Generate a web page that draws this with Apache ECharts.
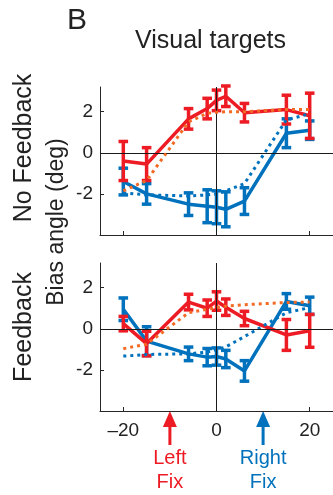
<!DOCTYPE html>
<html>
<head>
<meta charset="utf-8">
<script src="https://cdn.jsdelivr.net/npm/echarts@6/dist/echarts.min.js"></script>
<style>
html,body{margin:0;padding:0;background:#fff;}
#chart{width:333px;height:495px;}
</style>
</head>
<body>
<div id="chart"></div>
<script>
// ---- data ----
const targetX = [-20, -15, -6, -2, 0, 2, 6, 15, 20];
const xTicks = [-20, 0, 20];
const yTicks = [-2, 0, 2];
const fixX = { left: -10, right: 10 };

// No Feedback panel
const noFbLeftMean  = [-0.4, -0.55, 1.65, 2.15, 2.55, 2.75, 1.95, 2.1, 1.8];
const noFbLeftErr   = [0.95, 0.8, 0.5, 0.5, 0.5, 0.5, 0.45, 0.7, 1.1];
const noFbRightMean = [-1.4, -2.0, -2.5, -2.6, -2.65, -2.75, -2.35, 0.95, 1.1];
const noFbRightErr  = [0.65, 0.5, 0.55, 0.8, 0.8, 0.85, 0.65, 0.7, 0.45];
const noFbLeftFit   = [-1.85, -1.35, 1.5, 1.92, 1.97, 2.0, 2.0, 2.1, 2.1];
const noFbRightFit  = [-1.95, -2.05, -2.1, -2.05, -2.0, -1.85, -1.5, 1.6, 1.9];

// Feedback panel
const fbLeftMean  = [0.25, -0.72, 1.3, 1.0, 1.35, 1.05, 0.5, -0.3, -0.1];
const fbLeftErr   = [0.35, 0.6, 0.38, 0.4, 0.45, 0.4, 0.35, 0.75, 0.8];
const fbRightMean = [0.95, -0.6, -1.22, -1.38, -1.35, -1.47, -2.05, 1.33, 1.12];
const fbRightErr  = [0.55, 0.7, 0.33, 0.42, 0.42, 0.42, 0.5, 0.38, 0.42];
const fbLeftFit   = [-0.97, -0.75, 0.78, 0.95, 1.03, 1.1, 1.17, 1.28, 1.3];
const fbRightFit  = [-1.33, -1.25, -1.22, -1.13, -1.02, -0.88, -0.38, 0.78, 1.03];

// ---- styling ----
const RED = '#ED1C24', BLUE = '#0072BD', ORANGE = '#F26A24';
const FONT = '"Liberation Sans", Arial, Helvetica, sans-serif';
const TXT = '#222';

const pairs = (ys) => targetX.map((x, i) => [x, ys[i]]);
const errRows = (m, e) => targetX.map((x, i) => [x, m[i] - e[i], m[i] + e[i]]);

function errSeries(idx, m, e, color, z) {
  return {
    type: 'custom', xAxisIndex: idx, yAxisIndex: idx, z: z, silent: true,
    data: errRows(m, e),
    renderItem: function (params, api) {
      const x = api.value(0);
      const lo = api.coord([x, api.value(1)]);
      const hi = api.coord([x, api.value(2)]);
      const w = 4.8;
      const st = { stroke: color, lineWidth: 3.5, fill: null };
      return {
        type: 'group',
        children: [
          { type: 'line', shape: { x1: lo[0], y1: lo[1], x2: hi[0], y2: hi[1] }, style: st },
          { type: 'line', shape: { x1: lo[0] - w, y1: lo[1], x2: lo[0] + w, y2: lo[1] }, style: st },
          { type: 'line', shape: { x1: hi[0] - w, y1: hi[1], x2: hi[0] + w, y2: hi[1] }, style: st }
        ]
      };
    }
  };
}
function lineSeries(idx, ys, color, dotted, z) {
  return {
    type: 'line', xAxisIndex: idx, yAxisIndex: idx, z: z, silent: true,
    data: pairs(ys), symbol: 'none', animation: false,
    lineStyle: dotted ? { color: color, width: 3, type: [3, 4], cap: 'butt' }
                      : { color: color, width: 3.5 }
  };
}
function zeroLines(idx) {
  return {
    type: 'line', xAxisIndex: idx, yAxisIndex: idx, z: 1, silent: true, data: [],
    markLine: {
      silent: true, symbol: ['none', 'none'], animation: false,
      label: { show: false },
      lineStyle: { color: '#1a1a1a', width: 1, type: 'solid' },
      data: [{ yAxis: 0 }, { xAxis: 0 }]
    }
  };
}
function panelSeries(idx, lm, le, rm, re, lf, rf) {
  return [
    zeroLines(idx),
    lineSeries(idx, rm, BLUE, false, 2),
    errSeries(idx, rm, re, BLUE, 2),
    lineSeries(idx, lm, RED, false, 3),
    errSeries(idx, lm, le, RED, 3),
    lineSeries(idx, rf, BLUE, true, 4),
    lineSeries(idx, lf, ORANGE, true, 5)
  ];
}

const gridLeft = 100, gridWidth = 236, gridH = 148;
const xAxisCommon = (idx, showLabel) => ({
  type: 'value', gridIndex: idx, min: -25, max: 25,
  splitLine: { show: false },
  axisLine: { show: true, onZero: false, lineStyle: { color: '#262626', width: 1 } },
  axisTick: { show: true, inside: true, length: 4, customValues: xTicks, lineStyle: { color: '#262626' } },
  axisLabel: {
    show: showLabel, customValues: xTicks, margin: 10,
    fontFamily: FONT, fontSize: 19, color: TXT,
    formatter: v => (v < 0 ? '\u2013' + Math.abs(v) : String(v))
  }
});
const yAxisCommon = (idx) => ({
  type: 'value', gridIndex: idx, min: -4, max: 3.2,
  splitLine: { show: false },
  axisLine: { show: true, onZero: false, lineStyle: { color: '#262626', width: 1 } },
  axisTick: { show: true, inside: true, length: 4, customValues: yTicks, lineStyle: { color: '#262626' } },
  axisLabel: {
    customValues: yTicks, margin: 7,
    fontFamily: FONT, fontSize: 19, color: TXT,
    formatter: v => String(v)
  }
});

const chart = echarts.init(document.getElementById('chart'), null, { renderer: 'canvas' });
const baseGraphics = [
  { type: 'text', left: 67, top: 6, style: { text: 'B', font: '30px ' + FONT, fill: TXT } },
  { type: 'text', left: 135, top: 29, style: { text: 'Visual targets', font: '25px ' + FONT, fill: TXT } },
  { type: 'text', x: 24, y: 148, rotation: Math.PI / 2,
    style: { text: 'No Feedback', font: '25px ' + FONT, fill: TXT, align: 'center', verticalAlign: 'middle' } },
  { type: 'text', x: 24, y: 327, rotation: Math.PI / 2,
    style: { text: 'Feedback', font: '25px ' + FONT, fill: TXT, align: 'center', verticalAlign: 'middle' } },
  { type: 'text', x: 57, y: 222, rotation: Math.PI / 2,
    style: { text: 'Bias angle (deg)', font: '23px ' + FONT, fill: TXT, align: 'center', verticalAlign: 'middle' } }
];

chart.setOption({
  animation: false,
  backgroundColor: '#fff',
  grid: [
    { left: gridLeft, top: 87, width: gridWidth, height: gridH },
    { left: gridLeft, top: 263, width: gridWidth, height: gridH }
  ],
  xAxis: [xAxisCommon(0, false), xAxisCommon(1, true)],
  yAxis: [yAxisCommon(0), yAxisCommon(1)],
  series: [].concat(
    panelSeries(0, noFbLeftMean, noFbLeftErr, noFbRightMean, noFbRightErr, noFbLeftFit, noFbRightFit),
    panelSeries(1, fbLeftMean, fbLeftErr, fbRightMean, fbRightErr, fbLeftFit, fbRightFit)
  ),
  graphic: baseGraphics
});

function arrow(xv, color, label) {
  const px = chart.convertToPixel({ xAxisIndex: 1 }, xv);
  const py = chart.convertToPixel({ yAxisIndex: 1 }, -4);
  const headH = 16, headW = 7;
  return [
    { type: 'polygon', shape: { points: [[px, py], [px - headW, py + headH], [px + headW, py + headH]] },
      style: { fill: color } },
    { type: 'rect', shape: { x: px - 1.5, y: py + headH - 1, width: 3, height: 19 }, style: { fill: color } },
    { type: 'text', x: px, y: py + 47, style: { text: label[0], font: '20px ' + FONT, fill: color, align: 'center', verticalAlign: 'middle' } },
    { type: 'text', x: px, y: py + 71, style: { text: label[1], font: '20px ' + FONT, fill: color, align: 'center', verticalAlign: 'middle' } }
  ];
}
chart.setOption({
  graphic: baseGraphics.concat(arrow(fixX.left, RED, ['Left', 'Fix']), arrow(fixX.right, BLUE, ['Right', 'Fix']))
}, { replaceMerge: ['graphic'] });
</script>
</body>
</html>
